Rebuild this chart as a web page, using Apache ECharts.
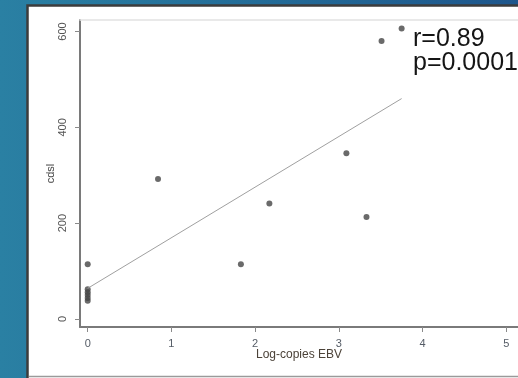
<!DOCTYPE html>
<html>
<head>
<meta charset="utf-8">
<script src="https://cdn.jsdelivr.net/npm/echarts@6/dist/echarts.min.js"></script>
<style>html,body{margin:0;padding:0;}#c{width:518px;height:378px;}</style>
</head>
<body>
<div id="c"></div>
<script>
// Data
var xTicks = [0, 1, 2, 3, 4, 5];
var yTicks = [0, 200, 400, 600];
var logCopiesEBV = [0, 0, 0, 0, 0, 0, 0.84, 1.83, 2.17, 3.09, 3.33, 3.51, 3.75];
var cdsl = [114, 38, 44, 50, 56, 62, 292, 114, 241, 346, 213, 580, 606];
var fitX = [0, 3.75];
var fitY = [64, 460];
var annotations = ['r=0.89', 'p=0.0001'];
var xTitle = 'Log-copies EBV';
var yTitle = 'cdsl';

var points = logCopiesEBV.map(function (x, i) { return [x, cdsl[i]]; });
var fitLine = fitX.map(function (x, i) { return [x, fitY[i]]; });

var chart = echarts.init(document.getElementById('c'), null, {renderer: 'canvas'});
chart.setOption({
  animation: false,
  backgroundColor: new echarts.graphic.LinearGradient(0, 0, 1, 0, [
    {offset: 0, color: '#2a80a3'},
    {offset: 0.5, color: '#236c98'},
    {offset: 1, color: '#1e568c'}
  ]),
  graphic: [
    {type: 'rect', z: -10, shape: {x: 27.5, y: 5.5, width: 500, height: 380},
     style: {fill: '#ffffff', stroke: '#3c3c3c', lineWidth: 2.5}},
    {type: 'line', z: -9, shape: {x1: 29, y1: 376.5, x2: 518, y2: 376.5},
     style: {stroke: '#9a9a9a', lineWidth: 1.5}},
    {type: 'text', left: 413, top: 27, z: 10,
     style: {text: annotations[0], font: '25px "Liberation Sans", Arial, sans-serif', fill: '#151515'}},
    {type: 'text', left: 413, top: 51, z: 10,
     style: {text: annotations[1], font: '25px "Liberation Sans", Arial, sans-serif', fill: '#151515'}}
  ],
  grid: {left: 80, top: 20, right: 0, bottom: 51, containLabel: false},
  xAxis: [{
    type: 'value', min: -0.092, max: 5.14,
    name: xTitle, nameLocation: 'middle', nameGap: 22, nameMoveOverlap: false,
    nameTextStyle: {fontFamily: '"Liberation Sans", Arial, sans-serif', fontSize: 12, color: '#4b4238'},
    axisLine: {show: true, onZero: false, lineStyle: {color: '#7a7a7a', width: 2}},
    axisTick: {show: true, length: 5, customValues: xTicks, lineStyle: {color: '#8a8a8a'}},
    axisLabel: {customValues: xTicks, margin: 11, fontSize: 11, color: '#555c66',
      fontFamily: '"Liberation Sans", Arial, sans-serif'},
    splitLine: {show: false}
  }, {
    type: 'value', position: 'top', min: -0.092, max: 5.14,
    axisLine: {show: true, onZero: false, lineStyle: {color: '#e2e2e2', width: 1.5}},
    axisTick: {show: false}, axisLabel: {show: false}, splitLine: {show: false}
  }],
  yAxis: {
    type: 'value', min: -16.7, max: 624,
    name: yTitle, nameLocation: 'middle', nameGap: 24, nameRotate: 90, nameMoveOverlap: false,
    nameTextStyle: {fontFamily: '"Liberation Sans", Arial, sans-serif', fontSize: 11, color: '#444'},
    axisLine: {show: true, onZero: false, lineStyle: {color: '#7a7a7a', width: 2}},
    axisTick: {show: true, length: 5, customValues: yTicks, lineStyle: {color: '#8a8a8a'}},
    axisLabel: {customValues: yTicks, rotate: 90, margin: 12, fontSize: 11, color: '#555',
      fontFamily: '"Liberation Sans", Arial, sans-serif', align: 'center', verticalAlign: 'bottom'},
    splitLine: {show: false}
  },
  series: [{
    type: 'line', data: fitLine, symbol: 'none', silent: true,
    lineStyle: {color: '#a0a0a0', width: 1}
  }, {
    type: 'scatter', data: points, symbolSize: 6,
    itemStyle: {color: '#454545'}
  }]
});
</script>
</body>
</html>
